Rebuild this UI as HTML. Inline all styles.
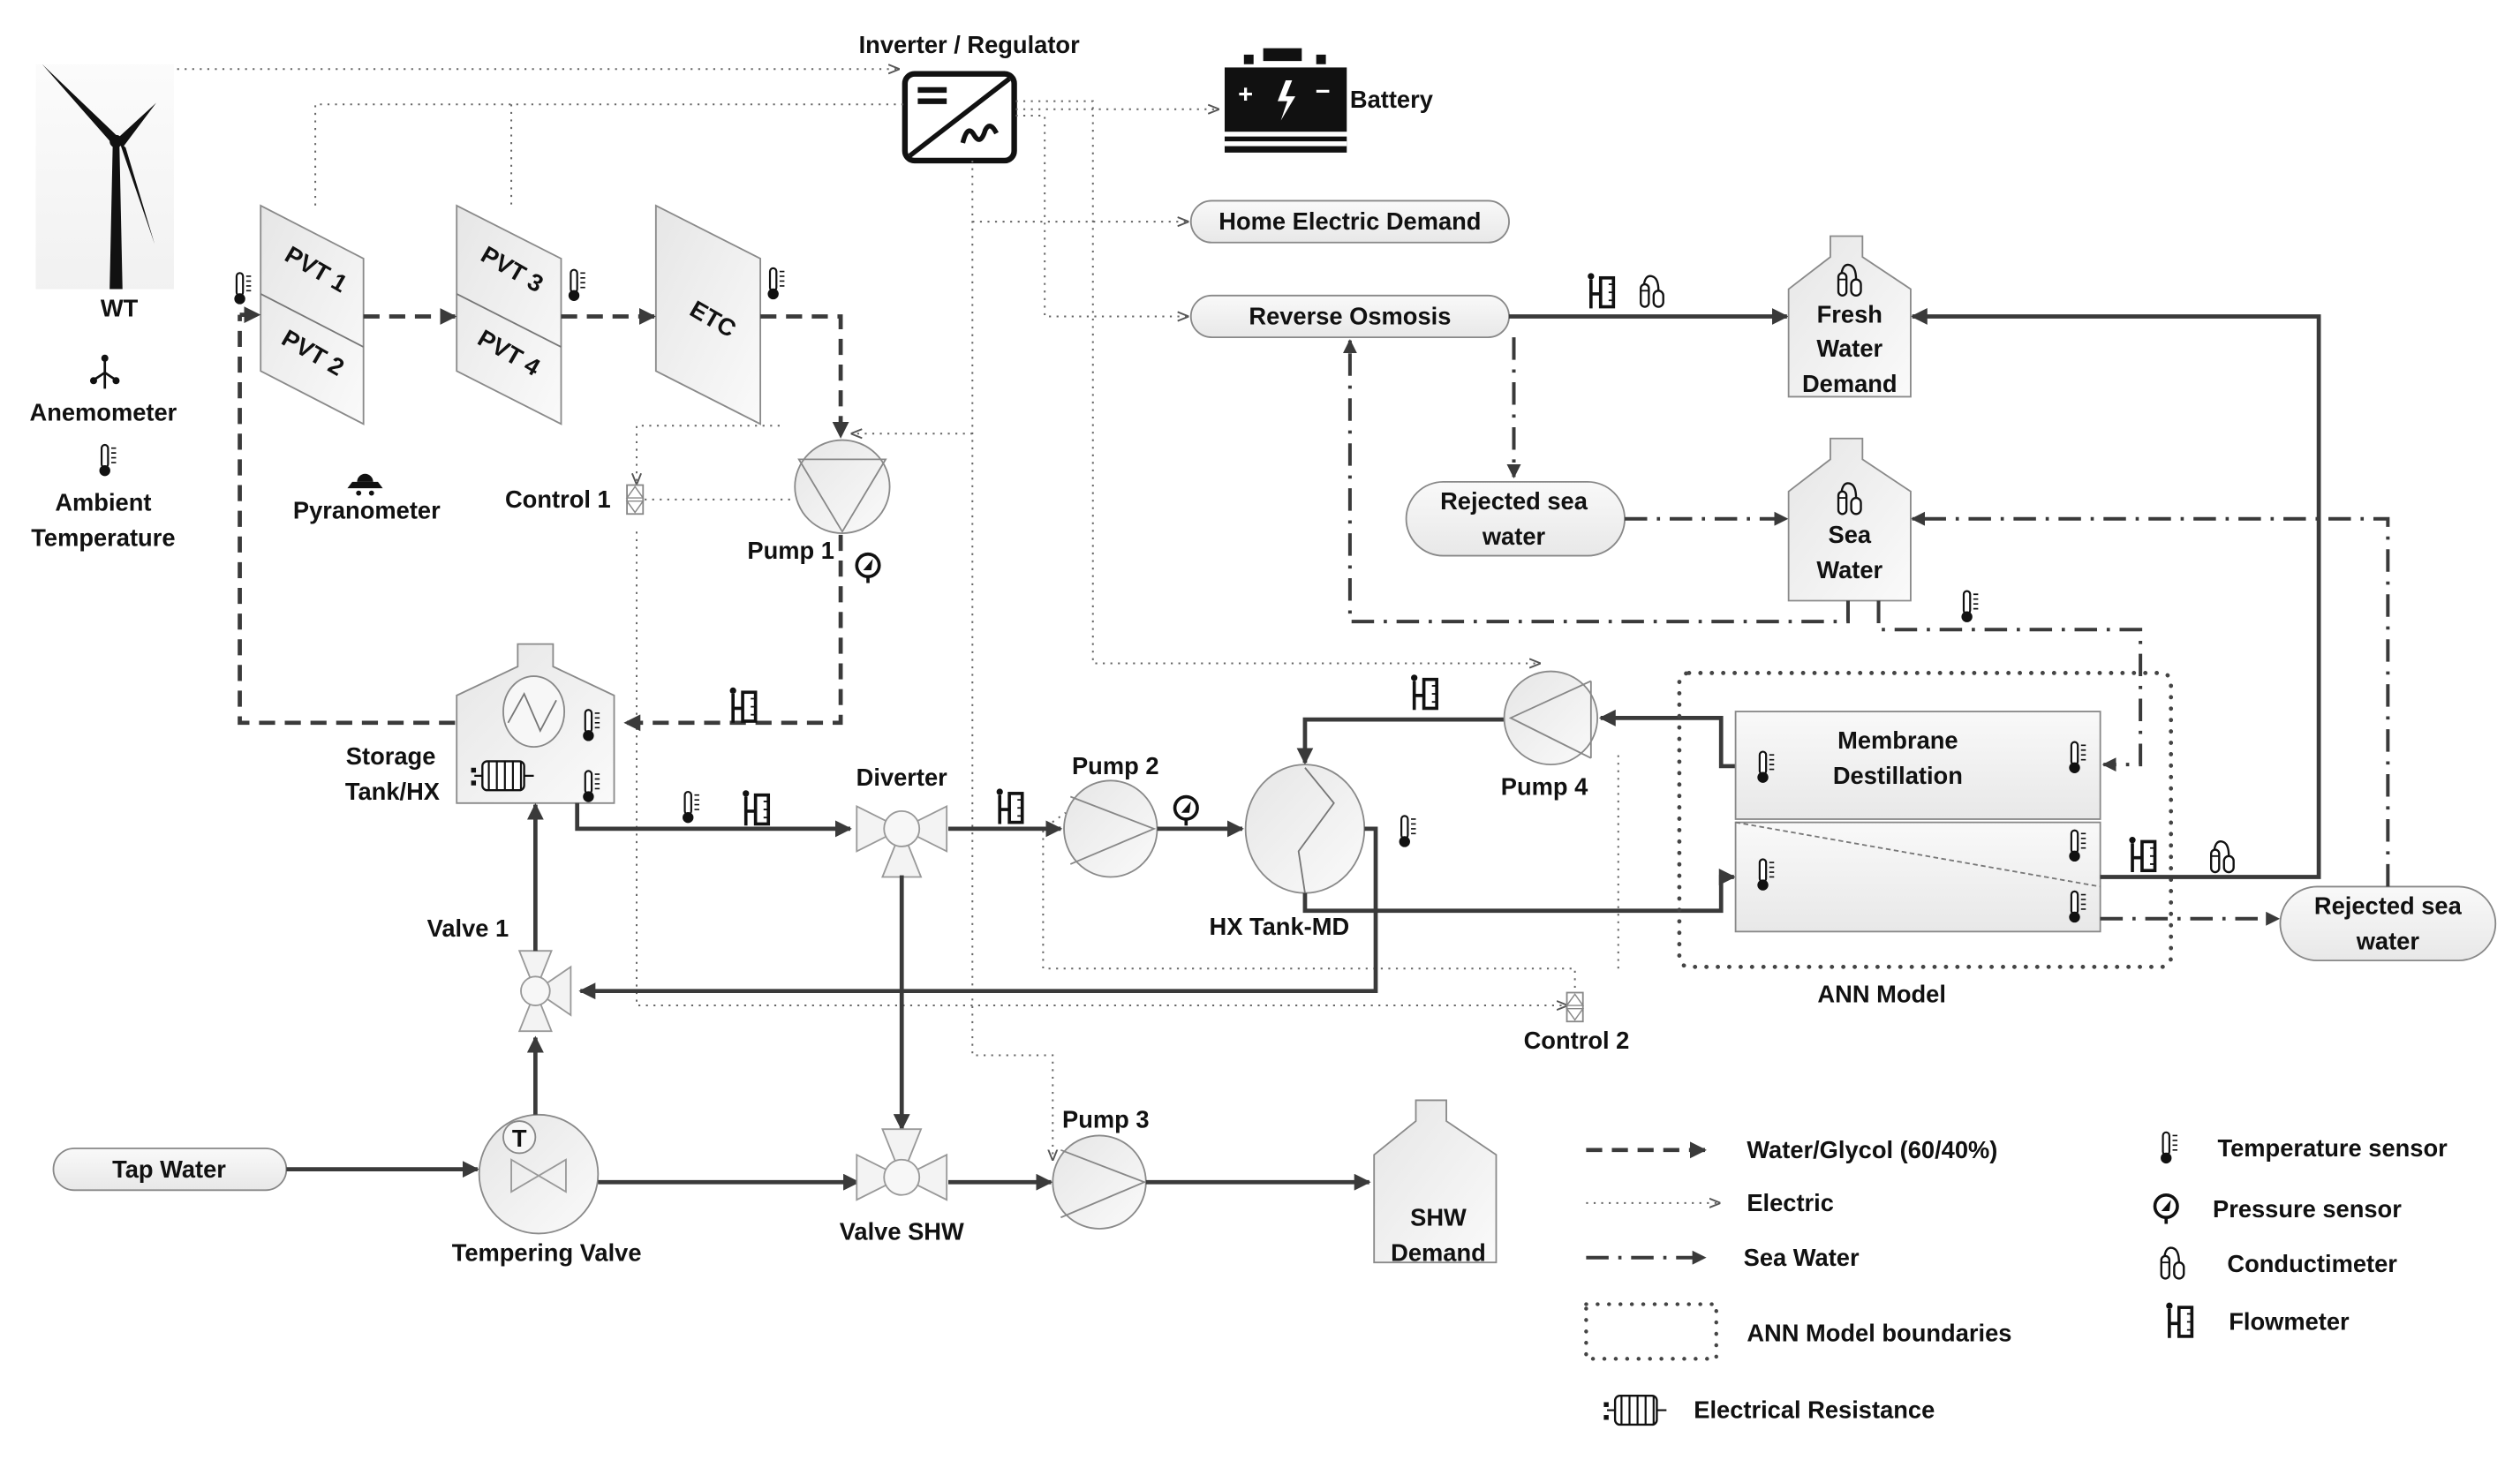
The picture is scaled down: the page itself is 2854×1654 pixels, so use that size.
<!DOCTYPE html>
<html><head><meta charset="utf-8"><style>
html,body{margin:0;padding:0;background:#fff}
svg{display:block}
text{font-family:"Liberation Sans",sans-serif;font-weight:bold;font-size:15px;fill:#111;text-anchor:middle}
.l{text-anchor:start}
.s{fill:none;stroke:#3a3a3a;stroke-width:2.6}
.d{fill:none;stroke:#3a3a3a;stroke-width:2.6;stroke-dasharray:10 6}
.e{fill:none;stroke:#666;stroke-width:1.1;stroke-dasharray:1.2 3.5}
.sw{fill:none;stroke:#3a3a3a;stroke-width:2.2;stroke-dasharray:14 6 2 6}
.eq{fill:url(#g);stroke:#8a8a8a;stroke-width:1}
</style></head><body>
<svg width="2854" height="1654" viewBox="0 0 1568 909" xmlns="http://www.w3.org/2000/svg">
<defs>
<linearGradient id="g" x1="0" y1="0" x2="1" y2="1"><stop offset="0" stop-color="#e6e6e6"/><stop offset="1" stop-color="#fafafa"/></linearGradient>
<linearGradient id="gv" x1="0" y1="0" x2="0" y2="1"><stop offset="0" stop-color="#f9f9f9"/><stop offset="1" stop-color="#e8e8e8"/></linearGradient>
<marker id="a" viewBox="0 0 10 10" refX="9" refY="5" markerWidth="4" markerHeight="4" orient="auto"><path d="M0,0L10,5L0,10z" fill="#3a3a3a"/></marker>
<marker id="ae" viewBox="0 0 10 10" refX="9" refY="5" markerWidth="7" markerHeight="7" orient="auto" markerUnits="userSpaceOnUse"><path d="M0,1L10,5L0,9" fill="none" stroke="#555" stroke-width="1.5"/></marker>
<g id="th"><rect x="-2" y="-10" width="4" height="14" rx="2" fill="#fff" stroke="#111" stroke-width="1.2"/><circle cx="0" cy="6" r="3.4" fill="#111"/><path d="M4,-8h3M4,-5h3M4,-2h3M4,1h3" stroke="#111" stroke-width="0.9"/></g>
<g id="fm"><circle cx="-6" cy="-10" r="2" fill="#111"/><path d="M-6,-8V10M-6,1H0" stroke="#111" stroke-width="2"/><rect x="0" y="-9" width="8" height="18" fill="#fff" stroke="#111" stroke-width="2"/><path d="M5,-5h3M5,0h3M5,5h3" stroke="#111" stroke-width="1"/></g>
<g id="cm"><rect x="-7" y="-6" width="5" height="14" rx="2.5" fill="#fff" stroke="#111" stroke-width="1.3"/><rect x="1" y="-2" width="6" height="10" rx="3" fill="#fff" stroke="#111" stroke-width="1.3"/><path d="M-5,-6Q-4,-12 0,-11T4,-2" fill="none" stroke="#111" stroke-width="1.3"/><path d="M-7,-2h5" stroke="#111"/></g>
<g id="ps"><circle r="7" fill="#fff" stroke="#111" stroke-width="2"/><path d="M-3,3L3,-4L2,3z" fill="#111"/><path d="M0,7v4" stroke="#111" stroke-width="2"/></g>
<g id="res"><path d="M-18,0h5M13,0h6" stroke="#111" stroke-width="1.2"/><rect x="-13" y="-9" width="26" height="18" rx="3" fill="#fff" stroke="#111" stroke-width="1.3"/><path d="M-9,-9v18M-4,-9v18M1,-9v18M6,-9v18M11,-9v18" stroke="#111" stroke-width="1.2"/><rect x="-20" y="-5" width="3" height="3" fill="#111"/><rect x="-20" y="3" width="3" height="3" fill="#111"/></g>
</defs>

<!-- ============ WIND TURBINE ============ -->
<rect x="22" y="40" width="86" height="140" fill="url(#gv)" opacity="0.6"/>
<path d="M70,86L68,180H76L74,86z" fill="#111"/>
<path d="M72,84L26,40L70,90z" fill="#111"/>
<path d="M73,86L97,64L76,92z" fill="#111"/>
<path d="M74,88L96,152L78,92z" fill="#111"/>
<circle cx="72" cy="88" r="4" fill="#111"/>
<text x="74" y="197">WT</text>
<g transform="translate(65,232)"><path d="M0,-8V10M-6,4L0,0L6,4" stroke="#111" stroke-width="1.5" fill="none"/><circle cx="0" cy="-9" r="2.2" fill="#111"/><circle cx="-7" cy="5" r="2.2" fill="#111"/><circle cx="7" cy="5" r="2.2" fill="#111"/></g>
<text x="64" y="262">Anemometer</text>
<use href="#th" x="65" y="287"/>
<text x="64" y="318">Ambient</text>
<text x="64" y="340">Temperature</text>
<g transform="translate(227,300)"><path d="M-11,4H11L8,0H-8z" fill="#111"/><path d="M-5,0A5,5 0 0 1 5,0" fill="#111"/><circle cx="-4" cy="7" r="1.6" fill="#111"/><circle cx="4" cy="7" r="1.6" fill="#111"/></g>
<text x="228" y="323">Pyranometer</text>

<!-- ============ INVERTER & BATTERY ============ -->
<text x="603" y="33">Inverter / Regulator</text>
<rect x="563" y="46" width="68" height="54" rx="6" fill="#fff" stroke="#111" stroke-width="3.5"/>
<path d="M566,97L628,49" stroke="#111" stroke-width="3"/>
<path d="M571,56h18M571,63h18" stroke="#111" stroke-width="3.5"/>
<path d="M599,89q3,-12 7,-5t7,-3q3,-6 7,2" fill="none" stroke="#111" stroke-width="3"/>
<path d="M774,34h6v6h-6zM819,34h6v6h-6zM786,30h24v8h-24z" fill="#111"/>
<rect x="762" y="42" width="76" height="40" fill="#111"/>
<rect x="762" y="85" width="76" height="10" fill="#111"/>
<rect x="762" y="88" width="76" height="3" fill="#fff"/>
<text x="775" y="64" style="fill:#fff;font-size:16px">+</text>
<text x="823" y="62" style="fill:#fff;font-size:16px">−</text>
<path d="M800,50L795,63h6l-4,12l9,-15h-6l4,-10z" fill="#fff"/>
<text x="840" y="67" class="l">Battery</text>

<!-- ============ ELECTRIC LINES ============ -->
<path class="e" d="M110,43H559" marker-end="url(#ae)"/>
<path class="e" d="M562,65H196V130M318,65V130"/>
<path class="e" d="M632,68H758" marker-end="url(#ae)"/>
<path class="e" d="M632,63H680V413H958" marker-end="url(#ae)"/>
<path class="e" d="M632,72H650V197H739" marker-end="url(#ae)"/>
<path class="e" d="M605,100V657H655V722" marker-end="url(#ae)"/>
<path class="e" d="M605,138H739" marker-end="url(#ae)"/>
<path class="e" d="M605,270H530" marker-end="url(#ae)"/>
<path class="e" d="M485,265H396V301" marker-end="url(#ae)"/>
<path class="e" d="M401,311H494"/>
<path class="e" d="M396,331V626H975" marker-end="url(#ae)"/>
<path class="e" d="M980,615V603H649V516L663,506"/>
<path class="e" d="M1007,603V467"/>

<!-- ============ SOLAR LOOP ============ -->
<path class="eq" d="M162,128L226,161V264L162,231z"/>
<path d="M162,183L226,216" stroke="#777" stroke-width="1"/>
<text transform="translate(194,172) rotate(30)">PVT 1</text>
<text transform="translate(192,224) rotate(30)">PVT 2</text>
<path class="eq" d="M284,128L349,161V264L284,231z"/>
<path d="M284,183L349,216" stroke="#777" stroke-width="1"/>
<text transform="translate(316,172) rotate(30)">PVT 3</text>
<text transform="translate(314,224) rotate(30)">PVT 4</text>
<path class="eq" d="M408,128L473,161V264L408,231z"/>
<text transform="translate(441,203) rotate(30)">ETC</text>
<use href="#th" x="149" y="180"/>
<use href="#th" x="357" y="178"/>
<use href="#th" x="481" y="177"/>
<path class="d" d="M149,196H161" marker-end="url(#a)"/>
<path class="d" d="M226,197H283" marker-end="url(#a)"/>
<path class="d" d="M349,197H407" marker-end="url(#a)"/>
<path class="d" d="M473,197H523V272" marker-end="url(#a)"/>
<ellipse class="eq" cx="524" cy="303" rx="29.5" ry="29"/>
<path d="M497,286H551L524,331z" fill="none" stroke="#888" stroke-width="1"/>
<text x="492" y="348">Pump 1</text>
<use href="#ps" x="540" y="352"/>
<path class="d" d="M523,333V450H389" marker-end="url(#a)"/>
<use href="#fm" x="462" y="440"/>
<path class="d" d="M283,450H149V196"/>
<g transform="translate(395,311)"><rect x="-5" y="-9" width="10" height="18" fill="#fff" stroke="#888"/><path d="M-5,-1L0,-8L5,-1zM-5,1L0,8L5,1z" fill="none" stroke="#888" stroke-width="0.8"/></g>
<text x="347" y="316">Control 1</text>

<!-- ============ STORAGE TANK ============ -->
<path class="eq" d="M322,401H344V415L382,433V500H284V433L322,415z"/>
<ellipse cx="332" cy="443" rx="19" ry="22" fill="#f7f7f7" stroke="#888"/>
<path d="M316,450L326,432L336,455L346,436" fill="none" stroke="#777"/>
<use href="#th" x="366" y="452"/>
<use href="#th" x="366" y="490"/>
<use href="#res" x="313" y="483"/>
<text x="243" y="476">Storage</text>
<text x="244" y="498">Tank/HX</text>

<!-- ============ MAIN HOT LOOP ============ -->
<path class="s" d="M359,500V516H529" marker-end="url(#a)"/>
<use href="#th" x="428" y="503"/>
<use href="#fm" x="470" y="504"/>
<g transform="translate(561,516)"><path d="M-28,-14L28,14V-14L-28,14z" fill="#f3f3f3" stroke="#999"/><path d="M-12,30L0,0L12,30z" fill="#f3f3f3" stroke="#999"/><circle r="11" fill="#f7f7f7" stroke="#999"/></g>
<text x="561" y="489">Diverter</text>
<path class="s" d="M590,516H660" marker-end="url(#a)"/>
<use href="#fm" x="628" y="503"/>
<ellipse class="eq" cx="691" cy="516" rx="29" ry="30"/>
<path d="M666,496L718,516L666,538" fill="none" stroke="#888"/>
<text x="694" y="482">Pump 2</text>
<path class="s" d="M720,516H773" marker-end="url(#a)"/>
<use href="#ps" x="738" y="503"/>
<ellipse class="eq" cx="812" cy="516" rx="37" ry="40"/>
<path d="M812,478L830,500L808,530L812,556" fill="none" stroke="#777"/>
<text x="796" y="582">HX Tank-MD</text>
<use href="#th" x="874" y="518"/>
<path class="s" d="M849,516H856V617H361" marker-end="url(#a)"/>
<path class="s" d="M812,556V567H1071V546H1079" marker-end="url(#a)"/>
<path class="s" d="M936,448H812V475" marker-end="url(#a)"/>
<use href="#fm" x="886" y="432"/>
<ellipse class="eq" cx="965" cy="447" rx="29" ry="29"/>
<path d="M990,424L940,447L990,472M990,424V472" fill="none" stroke="#888"/>
<text x="961" y="495">Pump 4</text>
<path class="s" d="M1080,477H1071V447H996" marker-end="url(#a)"/>
<g transform="translate(980,627)"><rect x="-5" y="-9" width="10" height="18" fill="#fff" stroke="#888"/><path d="M-5,-1L0,-8L5,-1zM-5,1L0,8L5,1z" fill="none" stroke="#888" stroke-width="0.8"/></g>
<text x="981" y="653">Control 2</text>

<!-- ============ MEMBRANE DISTILLATION / ANN ============ -->
<rect x="1045" y="419" width="306" height="183" rx="6" fill="none" stroke="#444" stroke-width="2.6" stroke-dasharray="0.1 7" stroke-linecap="round"/>
<rect x="1080" y="443" width="227" height="67" fill="url(#gv)" stroke="#888"/>
<rect x="1080" y="512" width="227" height="68" fill="url(#gv)" stroke="#888"/>
<path d="M1080,512L1307,552" stroke="#777" stroke-dasharray="3 2"/>
<text x="1181" y="466">Membrane</text>
<text x="1181" y="488">Destillation</text>
<use href="#th" x="1097" y="478"/><use href="#th" x="1291" y="472"/>
<use href="#th" x="1097" y="545"/><use href="#th" x="1291" y="527"/><use href="#th" x="1291" y="565"/>
<text x="1171" y="624">ANN Model</text>
<path class="s" d="M1307,546H1443V197H1190" marker-end="url(#a)"/>
<use href="#fm" x="1333" y="533"/>
<use href="#cm" x="1383" y="535"/>
<path class="sw" d="M1307,572H1418" marker-end="url(#a)"/>
<rect x="1419" y="552" width="134" height="46" rx="23" fill="url(#gv)" stroke="#888"/>
<text x="1486" y="569">Rejected sea</text>
<text x="1486" y="591">water</text>
<path class="sw" d="M1486,552V323H1190" marker-end="url(#a)"/>

<!-- ============ RO / WATER TANKS ============ -->
<rect x="741" y="125" width="198" height="26" rx="13" fill="url(#gv)" stroke="#888"/>
<text x="840" y="143">Home Electric Demand</text>
<rect x="741" y="184" width="198" height="26" rx="13" fill="url(#gv)" stroke="#888"/>
<text x="840" y="202">Reverse Osmosis</text>
<path class="s" d="M939,197H1112" marker-end="url(#a)"/>
<use href="#fm" x="996" y="182"/>
<use href="#cm" x="1028" y="183"/>
<path class="eq" d="M1139,147H1159V160L1189,180V247H1113V180L1139,160z"/>
<use href="#cm" x="1151" y="176"/>
<text x="1151" y="201">Fresh</text>
<text x="1151" y="222">Water</text>
<text x="1151" y="244">Demand</text>
<path class="sw" d="M942,210V297" marker-end="url(#a)"/>
<rect x="875" y="300" width="136" height="46" rx="23" fill="url(#gv)" stroke="#888"/>
<text x="942" y="317">Rejected sea</text>
<text x="942" y="339">water</text>
<path class="sw" d="M1011,323H1112" marker-end="url(#a)"/>
<path class="eq" d="M1139,273H1159V286L1189,306V374H1113V306L1139,286z"/>
<use href="#cm" x="1151" y="312"/>
<text x="1151" y="338">Sea</text>
<text x="1151" y="360">Water</text>
<path class="sw" d="M1150,374V387H840V212" marker-end="url(#a)"/>
<path class="sw" d="M1169,374V392H1332V476H1309" marker-end="url(#a)"/>
<use href="#th" x="1224" y="378"/>

<!-- ============ BOTTOM: SHW ============ -->
<rect x="33" y="715" width="145" height="26" rx="13" fill="url(#gv)" stroke="#888"/>
<text x="105" y="733">Tap Water</text>
<path class="s" d="M178,728H297" marker-end="url(#a)"/>
<ellipse class="eq" cx="335" cy="731" rx="37" ry="37"/>
<circle cx="323" cy="708" r="10" fill="#f7f7f7" stroke="#888"/>
<text x="323" y="714">T</text>
<path d="M318,722L352,742V722L318,742z" fill="none" stroke="#999"/>
<text x="340" y="785">Tempering Valve</text>
<path class="s" d="M333,694V646" marker-end="url(#a)"/>
<g transform="translate(333,617)"><path d="M-10,-25H10L-10,25H10z" fill="#f3f3f3" stroke="#999"/><path d="M22,-15V15L0,0z" fill="#f3f3f3" stroke="#999"/><circle r="9" fill="#f7f7f7" stroke="#999"/></g>
<path class="s" d="M333,592V501" marker-end="url(#a)"/>
<text x="291" y="583">Valve 1</text>
<path class="s" d="M372,736H534" marker-end="url(#a)"/>
<path class="s" d="M561,545V703" marker-end="url(#a)"/>
<g transform="translate(561,733)"><path d="M-28,-14L28,14V-14L-28,14z" fill="#f3f3f3" stroke="#999"/><path d="M-12,-30L0,0L12,-30z" fill="#f3f3f3" stroke="#999"/><circle r="11" fill="#f7f7f7" stroke="#999"/></g>
<text x="561" y="772">Valve SHW</text>
<path class="s" d="M590,736H654" marker-end="url(#a)"/>
<ellipse class="eq" cx="684" cy="736" rx="29" ry="29"/>
<path d="M660,716L712,736L660,758" fill="none" stroke="#888"/>
<text x="688" y="702">Pump 3</text>
<path class="s" d="M713,736H852" marker-end="url(#a)"/>
<path class="eq" d="M881,685H900V698L931,719V786H855V719L881,698z"/>
<text x="895" y="763">SHW</text>
<text x="895" y="785">Demand</text>

<!-- ============ LEGEND ============ -->
<path class="d" d="M987,716H1061" marker-end="url(#a)"/>
<text x="1087" y="721" class="l">Water/Glycol (60/40%)</text>
<path class="e" d="M987,749H1070" marker-end="url(#ae)"/>
<text x="1087" y="754" class="l">Electric</text>
<path class="sw" d="M987,783H1061" marker-end="url(#a)"/>
<text x="1085" y="788" class="l">Sea Water</text>
<rect x="987" y="812" width="81" height="34" fill="none" stroke="#444" stroke-width="2.4" stroke-dasharray="0.1 7" stroke-linecap="round"/>
<text x="1087" y="835" class="l">ANN Model boundaries</text>
<use href="#res" x="1018" y="878"/>
<text x="1054" y="883" class="l">Electrical Resistance</text>
<use href="#th" x="1348" y="715"/>
<text x="1380" y="720" class="l">Temperature sensor</text>
<use href="#ps" x="1348" y="751"/>
<text x="1377" y="758" class="l">Pressure sensor</text>
<use href="#cm" x="1352" y="788"/>
<text x="1386" y="792" class="l">Conductimeter</text>
<use href="#fm" x="1356" y="823"/>
<text x="1387" y="828" class="l">Flowmeter</text>
</svg>
</body></html>
